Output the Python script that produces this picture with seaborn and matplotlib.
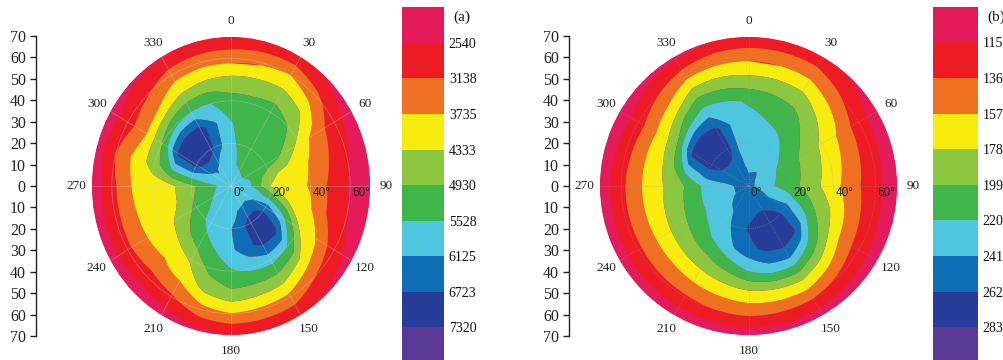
import numpy as np
import matplotlib
matplotlib.use("Agg")
import matplotlib.pyplot as plt
from matplotlib.colors import ListedColormap, BoundaryNorm
from matplotlib.transforms import ScaledTranslation
import seaborn as sns

# Azimuth (deg, clockwise from north) and zenith angle (deg) of the sampling grid
angles_deg = [0, 15, 30, 45, 60, 75, 90, 105, 120, 135, 150, 165,
              180, 195, 210, 225, 240, 255, 270, 285, 300, 315, 330, 345]
zenith_deg = [0, 10, 20, 30, 40, 50, 60, 70]

# Panel (a): one row per azimuth, one column per zenith angle
field_a = [
    [5826, 5737, 5647, 5557, 5169, 4512, 3496, 2630],
    [5826, 5535, 5408, 5288, 5139, 4512, 3615, 2630],
    [5826, 5468, 5348, 5229, 5259, 4542, 3740, 2600],
    [5826, 5408, 5288, 5169, 4935, 4273, 3317, 2420],
    [5826, 5408, 5229, 4870, 4093, 3436, 2779, 2241],
    [5826, 5535, 4512, 4093, 3740, 3197, 2600, 2182],
    [5826, 5535, 4303, 4034, 3675, 3018, 2450, 2122],
    [5826, 5886, 5348, 4340, 3884, 3108, 2545, 2182],
    [5826, 6006, 6484, 5707, 4273, 3675, 2779, 2301],
    [5826, 6130, 7081, 7021, 5535, 4153, 3145, 2420],
    [5826, 6065, 7021, 6961, 5766, 4631, 3556, 2600],
    [5826, 6006, 6543, 6484, 5647, 4691, 3615, 2545],
    [5826, 6006, 6095, 6006, 5468, 4811, 3705, 2510],
    [5826, 5886, 5826, 5587, 5109, 4512, 3496, 2420],
    [5826, 5766, 5766, 5229, 4422, 3854, 3048, 2211],
    [5826, 5647, 5408, 4870, 4093, 3615, 2869, 2152],
    [5826, 5535, 5079, 4452, 4064, 3675, 2988, 2241],
    [5826, 5468, 4870, 4213, 4004, 3705, 2958, 2211],
    [5826, 5408, 4781, 4213, 3974, 3740, 2958, 2152],
    [5826, 5766, 5886, 5647, 4631, 3914, 3145, 2241],
    [5826, 6006, 6961, 6902, 4935, 3615, 2839, 2241],
    [5826, 6185, 7140, 7140, 5408, 3854, 3078, 2420],
    [5826, 5946, 6902, 7021, 5535, 4340, 3436, 2480],
    [5826, 5826, 6185, 6185, 5535, 4452, 3496, 2570],
]

# Panel (b)
field_b = [
    [2473, 2368, 2305, 2263, 2179, 1843, 1528, 1182],
    [2473, 2379, 2295, 2221, 2116, 1833, 1518, 1192],
    [2473, 2389, 2284, 2179, 2053, 1812, 1507, 1192],
    [2473, 2326, 2205, 2053, 1896, 1675, 1381, 1119],
    [2473, 2284, 2116, 1938, 1738, 1518, 1234, 1035],
    [2473, 2253, 2095, 1896, 1686, 1465, 1213, 1024],
    [2473, 2232, 2074, 1864, 1644, 1423, 1203, 1024],
    [2473, 2326, 2242, 2011, 1770, 1476, 1213, 1024],
    [2473, 2415, 2494, 2263, 1906, 1539, 1245, 1035],
    [2473, 2515, 2683, 2662, 2158, 1696, 1329, 1014],
    [2473, 2557, 2767, 2746, 2368, 1822, 1402, 1003],
    [2473, 2557, 2725, 2683, 2326, 1785, 1402, 1014],
    [2473, 2536, 2641, 2536, 2205, 1738, 1402, 1024],
    [2473, 2494, 2515, 2389, 2032, 1675, 1365, 1014],
    [2473, 2452, 2347, 2232, 1927, 1633, 1329, 1014],
    [2473, 2415, 2305, 2137, 1875, 1591, 1318, 1014],
    [2473, 2379, 2263, 2064, 1833, 1575, 1308, 1024],
    [2473, 2379, 2263, 2022, 1801, 1575, 1308, 1014],
    [2473, 2379, 2263, 1995, 1785, 1575, 1308, 1014],
    [2473, 2452, 2494, 2284, 1822, 1575, 1276, 1003],
    [2473, 2536, 2725, 2683, 1906, 1575, 1255, 982],
    [2473, 2536, 2788, 2767, 2158, 1675, 1365, 1066],
    [2473, 2515, 2725, 2683, 2305, 1906, 1486, 1066],
    [2473, 2431, 2400, 2368, 2242, 1885, 1518, 1161],
]

levels_a = [2540, 3138, 3735, 4333, 4930, 5528, 6125, 6723, 7320]
levels_b = [1150, 1360, 1570, 1780, 1990, 2200, 2410, 2620, 2830]

band_colors = ["#E31B5A", "#ED1C24", "#F07022", "#F8EC0F", "#8DC63F",
               "#3FB54A", "#4FC6DF", "#0F6DB6", "#253C98", "#5B3A96"]

angle_ticks = list(range(0, 360, 30))
radial_ticks = [0, 20, 40, 60]
scale_ticks = list(range(-70, 71, 10))

sns.set_theme(style="white")
plt.rcParams["font.family"] = ["Liberation Serif", "DejaVu Serif"]

W, H = 1004, 360
fig = plt.figure(figsize=(W / 100, H / 100), dpi=100)
fig.patch.set_facecolor("white")


def rect(x0, y0, x1, y1):
    """Pixel box (top-left origin) -> figure fraction rect."""
    return [x0 / W, 1 - y1 / H, (x1 - x0) / W, (y1 - y0) / H]


def draw_panel(field, levels, tag, scale_x, polar_box, cbar_box, grid_style):
    # zenith scale on the left
    sax = fig.add_axes(rect(scale_x, 36, scale_x + 0.5, 336))
    sax.set_ylim(-70, 70)
    sax.set_yticks(scale_ticks)
    sax.set_yticklabels([str(abs(t)) for t in scale_ticks])
    sax.set_xticks([])
    for s in ("top", "right", "bottom"):
        sax.spines[s].set_visible(False)
    sax.spines["left"].set_linewidth(1.0)
    sax.spines["left"].set_color("#222222")
    sax.tick_params(axis="y", length=4, width=1, pad=3, labelsize=11.5,
                    direction="out", left=True, colors="#222222")
    sax.patch.set_alpha(0)

    # polar contour map
    ax = fig.add_axes(rect(*polar_box), projection="polar")
    ax.set_aspect("auto")
    ax.set_theta_zero_location("N")
    ax.set_theta_direction(-1)
    theta = np.deg2rad(np.array(angles_deg + [360.0]))
    zen = np.array(zenith_deg, dtype=float)
    z = np.array(field, dtype=float)
    z = np.vstack([z, z[:1]])
    T, R = np.meshgrid(theta, zen, indexing="ij")
    cmap = ListedColormap(band_colors[1:-1])
    cmap.set_under(band_colors[0])
    cmap.set_over(band_colors[-1])
    norm = BoundaryNorm(levels, ncolors=cmap.N)
    cs = ax.contourf(T, R, z, levels=levels, cmap=cmap, norm=norm,
                     extend="both", antialiased=True)
    for p in cs.get_paths():
        p._interpolation_steps = 40
    ax.set_facecolor(band_colors[0])
    ax.set_ylim(0, 70)
    ax.spines["polar"].set_visible(False)
    ax.set_axisbelow(False)
    ax.set_thetagrids(angle_ticks, labels=[str(a) for a in angle_ticks])
    ax.set_rgrids([20, 40, 60], labels=["", "", ""])
    ax.grid(True, **grid_style)
    ax.tick_params(axis="x", pad=-1.5, labelsize=9.5, colors="#222222")
    off = ScaledTranslation(1.5 / 72, -5 / 72, fig.dpi_scale_trans)
    for r in radial_ticks:
        ax.text(np.pi / 2, r, f"{r}\u00b0", transform=ax.transData + off,
                ha="left", va="center", fontsize=8.5, color="#1b2a1b",
                family=["Liberation Sans", "DejaVu Sans"], zorder=5)

    # discrete colour key drawn as a one-column heatmap
    cax = fig.add_axes(rect(*cbar_box))
    bands = np.arange(len(band_colors)).reshape(-1, 1)
    sns.heatmap(bands, cmap=ListedColormap(band_colors), vmin=-0.5,
                vmax=len(band_colors) - 0.5, cbar=False, ax=cax,
                xticklabels=False, yticklabels=False)
    cax.yaxis.tick_right()
    cax.set_yticks(np.arange(1, len(band_colors)))
    cax.set_yticklabels([str(v) for v in levels], rotation=0)
    cax.tick_params(axis="y", length=0, pad=3.5, labelsize=10,
                    colors="#111111", right=True, left=False,
                    labelright=True, labelleft=False)
    fig.text((cbar_box[2] + 9) / W, 1 - 17 / H, tag, ha="left",
             va="center", fontsize=11, color="#111111")


draw_panel(field_a, levels_a, "(a)", 35.5, (92, 37, 370, 335),
           (402, 7.3, 444, 363),
           dict(color="#c8d8c8", alpha=0.35, linewidth=0.6))
draw_panel(field_b, levels_b, "(b)", 568.5, (600, 37, 897, 335),
           (933, 6.7, 978, 363),
           dict(color="#9a9a9a", alpha=0.55, linewidth=0.6, linestyle=":"))

fig.savefig("out.png", dpi=100)
